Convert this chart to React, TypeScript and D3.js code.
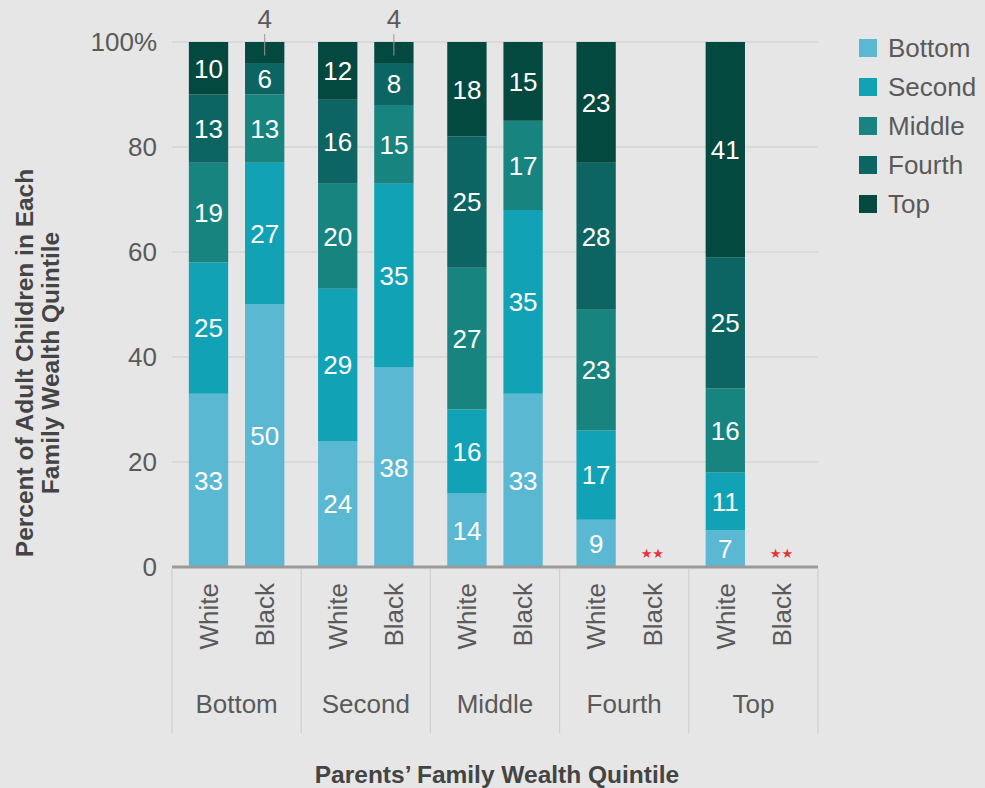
import React, { useRef, useEffect } from 'react';
import * as d3 from 'd3';

// parents' wealth quintile groups, and race within each group
const groups = ['Bottom', 'Second', 'Middle', 'Fourth', 'Top'];
const races = ['White', 'Black'];
// adult child's own quintile (stack order, bottom to top)
const quintiles = ['Bottom', 'Second', 'Middle', 'Fourth', 'Top'];
const quintileColors = ['#5bb8d3', '#11a3b5', '#18847f', '#0c6562', '#03493f'];

// percent shares, one row per parents' quintile
const whiteShares = [
  [33, 25, 19, 13, 10],
  [24, 29, 20, 16, 12],
  [14, 16, 27, 25, 18],
  [9, 17, 23, 28, 23],
  [7, 11, 16, 25, 41],
];
const blackShares: (number[] | null)[] = [
  [50, 27, 13, 6, 4],
  [38, 35, 15, 8, 4],
  [33, 35, 17, 0, 15],
  null, // ** sample too small
  null,
];
const yTicks = [0, 20, 40, 60, 80, 100];

const FONT = '"Liberation Sans", Arial, sans-serif';

const App = () => {
  const svgRef = useRef<SVGSVGElement>(null);

  useEffect(() => {
    const svg = d3.select(svgRef.current);
    svg.selectAll('*').remove();

    const W = 985, H = 788;
    const x0 = 172, x1 = 818, yTop = 42, yBase = 567;

    svg.append('rect').attr('width', W).attr('height', H).attr('fill', '#e6e6e6');

    const x = d3.scaleBand().domain(groups).range([x0, x1]).padding(0);
    const xInner = d3.scaleBand().domain(races).range([0, x.bandwidth()])
      .paddingInner(0.3).paddingOuter(0.3);
    const y = d3.scaleLinear().domain([0, 100]).range([yBase, yTop]).clamp(true);

    // gridlines
    svg.append('g').selectAll('line')
      .data(yTicks.filter(d => d > 0))
      .enter().append('line')
      .attr('x1', x0).attr('x2', x1)
      .attr('y1', d => y(d)).attr('y2', d => y(d))
      .attr('stroke', '#cdcdcd').attr('stroke-width', 1);

    // y tick labels
    svg.append('g').selectAll('text')
      .data(yTicks)
      .enter().append('text')
      .attr('x', 157).attr('y', d => y(d)).attr('dy', '0.35em')
      .attr('text-anchor', 'end')
      .style('font-family', FONT).style('font-size', '26px').attr('fill', '#5a5a5a')
      .text(d => (d === 100 ? '100%' : String(d)));

    // bars
    const rows: { group: string; race: string; values: number[] | null }[] = [];
    groups.forEach((g, i) => {
      rows.push({ group: g, race: 'White', values: whiteShares[i] });
      rows.push({ group: g, race: 'Black', values: blackShares[i] });
    });

    const barG = svg.append('g');
    rows.forEach(r => {
      const bx = (x(r.group) as number) + (xInner(r.race) as number);
      const bw = xInner.bandwidth();
      const cx = bx + bw / 2;
      if (!r.values) {
        barG.append('text')
          .attr('x', cx).attr('y', yBase - 9)
          .attr('text-anchor', 'middle')
          .style('font-family', '"DejaVu Sans", sans-serif').style('font-size', '13px')
          .attr('fill', '#e8333c')
          .text('\u2605\u2605');
        return;
      }
      const stacked = d3.stack<number[]>().keys(quintiles.map((_, i) => String(i)))
        .value((d, k) => d[+k])([r.values]);
      stacked.forEach((layer, li) => {
        const [lo, hi] = layer[0];
        const v = r.values![li];
        if (v <= 0) return;
        barG.append('rect')
          .attr('x', bx).attr('width', bw)
          .attr('y', y(hi)).attr('height', y(lo) - y(hi))
          .attr('fill', quintileColors[li]);
      });
      stacked.forEach((layer, li) => {
        const [lo, hi] = layer[0];
        const v = r.values![li];
        if (v <= 0) return;
        if (v < 5) {
          // small share: label above the bar with a leader line
          barG.append('line')
            .attr('x1', cx).attr('x2', cx)
            .attr('y1', y(100) - 8).attr('y2', (y(lo) + y(hi)) / 2 + 3)
            .attr('stroke', '#999').attr('stroke-width', 1);
          barG.append('text')
            .attr('x', cx).attr('y', y(100) - 14)
            .attr('text-anchor', 'middle')
            .style('font-family', FONT).style('font-size', '26px').attr('fill', '#5a5a5a')
            .text(v);
        } else {
          barG.append('text')
            .attr('x', cx).attr('y', (y(lo) + y(Math.min(hi, 100))) / 2).attr('dy', '0.36em')
            .attr('text-anchor', 'middle')
            .style('font-family', FONT).style('font-size', '26px').attr('fill', '#fff')
            .text(v);
        }
      });
    });

    // baseline
    svg.append('line')
      .attr('x1', x0).attr('x2', x1).attr('y1', yBase).attr('y2', yBase)
      .attr('stroke', '#9a9a9a').attr('stroke-width', 3);

    // group dividers
    const edges = groups.map(g => x(g) as number).concat([x1]);
    svg.append('g').selectAll('line')
      .data(edges)
      .enter().append('line')
      .attr('x1', d => d).attr('x2', d => d)
      .attr('y1', yBase + 2).attr('y2', 733)
      .attr('stroke', '#cfcfcf').attr('stroke-width', 1.2);

    // race labels (rotated)
    rows.forEach(r => {
      const cx = (x(r.group) as number) + (xInner(r.race) as number) + xInner.bandwidth() / 2;
      svg.append('text')
        .attr('transform', `translate(${cx},583) rotate(-90)`)
        .attr('dy', '0.36em')
        .attr('text-anchor', 'end')
        .style('font-family', FONT).style('font-size', '26px').attr('fill', '#5a5a5a')
        .text(r.race);
    });

    // group labels
    svg.append('g').selectAll('text')
      .data(groups)
      .enter().append('text')
      .attr('x', d => (x(d) as number) + x.bandwidth() / 2).attr('y', 713)
      .attr('text-anchor', 'middle')
      .style('font-family', FONT).style('font-size', '26px').attr('fill', '#5a5a5a')
      .text(d => d);

    // axis titles
    svg.append('text')
      .attr('x', 497).attr('y', 783)
      .attr('text-anchor', 'middle')
      .style('font-family', FONT).style('font-size', '24.5px').style('font-weight', 'bold')
      .attr('fill', '#444')
      .text('Parents\u2019 Family Wealth Quintile');

    const yTitle = svg.append('text')
      .attr('transform', 'translate(33,363) rotate(-90)')
      .attr('text-anchor', 'middle')
      .style('font-family', FONT).style('font-size', '24.5px').style('font-weight', 'bold')
      .attr('fill', '#444');
    yTitle.append('tspan').attr('x', 0).attr('y', 0).text('Percent of Adult Children in Each');
    yTitle.append('tspan').attr('x', 0).attr('y', 26).text('Family Wealth Quintile');

    // legend
    const legend = svg.append('g').attr('transform', 'translate(859,48)');
    const item = legend.selectAll('g')
      .data(quintiles)
      .enter().append('g')
      .attr('transform', (_, i) => `translate(0,${i * 39})`);
    item.append('rect')
      .attr('x', 0).attr('y', -9).attr('width', 18).attr('height', 18)
      .attr('fill', (_, i) => quintileColors[i]);
    item.append('text')
      .attr('x', 29).attr('y', 0).attr('dy', '0.36em')
      .style('font-family', FONT).style('font-size', '26px').attr('fill', '#5a5a5a')
      .text(d => d);
  }, []);

  return (
    <svg
      ref={svgRef}
      width={985}
      height={788}
      style={{ position: 'absolute', left: 0, top: 0, display: 'block' }}
    />
  );
};

export default App;
